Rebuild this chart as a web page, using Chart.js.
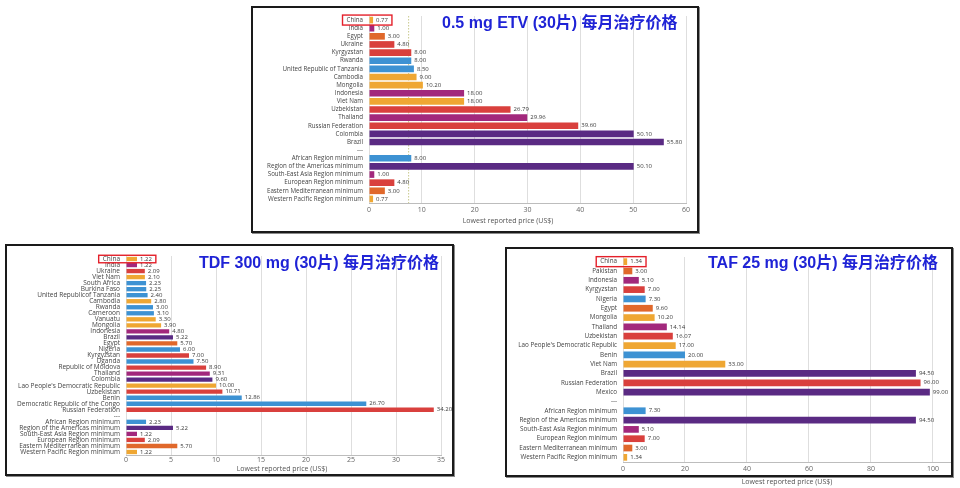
<!DOCTYPE html>
<html><head><meta charset="utf-8">
<script src="https://cdn.jsdelivr.net/npm/chart.js@4.4.1/dist/chart.umd.min.js"></script>
<style>
html,body{margin:0;padding:0;background:#fff;width:960px;height:488px;overflow:hidden;}
body{position:relative;}
.cv{position:absolute;}
.frame{position:absolute;border:2px solid #1a1a1a;box-sizing:border-box;box-shadow:1px 1px 0 #8a8a8a;pointer-events:none;}
.title{position:absolute;font:bold 16px "Liberation Sans","Noto Sans CJK SC",sans-serif;color:#1f23d6;line-height:16px;white-space:nowrap;}
</style></head><body>
<canvas id="c1" class="cv" width="448" height="227" style="left:251px;top:6px"></canvas>
<canvas id="c2" class="cv" width="449" height="232" style="left:5px;top:244px"></canvas>
<canvas id="c3" class="cv" width="448" height="241" style="left:505px;top:247px"></canvas>
<div class="frame" style="left:251px;top:6px;width:448px;height:227px"></div>
<div class="frame" style="left:5px;top:244px;width:449px;height:232px"></div>
<div class="frame" style="left:505px;top:247px;width:448px;height:230px"></div>
<div class="title" style="left:442px;top:15px">0.5 mg ETV (30片) 每月治疗价格</div>
<div class="title" style="left:199px;top:255px">TDF 300 mg (30片) 每月治疗价格</div>
<div class="title" style="left:708px;top:255px">TAF 25 mg (30片) 每月治疗价格</div>
<script>
// ---------- DATA ----------
const etvLabels = ["China","India","Egypt","Ukraine","Kyrgyzstan","Rwanda","United Republic of Tanzania","Cambodia","Mongolia","Indonesia","Viet Nam","Uzbekistan","Thailand","Russian Federation","Colombia","Brazil","---","African Region minimum","Region of the Americas minimum","South-East Asia Region minimum","European Region minimum","Eastern Mediterranean minimum","Western Pacific Region minimum"];
const etvValues = [0.77,1.00,3.00,4.80,8.00,8.00,8.50,9.00,10.20,18.00,18.00,26.79,29.96,39.60,50.10,55.80,null,8.00,50.10,1.00,4.80,3.00,0.77];
const etvRegions = ["WPR","SEAR","EMR","EUR","EUR","AFR","AFR","WPR","WPR","SEAR","WPR","EUR","SEAR","EUR","AMR","AMR",null,"AFR","AMR","SEAR","EUR","EMR","WPR"];
const etvRefLine = 7.5;
const etvTicks = {max:60, step:10};

const tdfLabels = ["China","India","Ukraine","Viet Nam","South Africa","Burkina Faso","United Republicof Tanzania","Cambodia","Rwanda","Cameroon","Vanuatu","Mongolia","Indonesia","Brazil","Egypt","Nigeria","Kyrgyzstan","Uganda","Republic of Moldova","Thailand","Colombia","Lao People's Democratic Republic","Uzbekistan","Benin","Democratic Republic of the Congo","Russian Federation","---","African Region minimum","Region of the Americas minimum","South-East Asia Region minimum","European Region minimum","Eastern Mediterranean minimum","Western Pacific Region minimum"];
const tdfValues = [1.22,1.22,2.09,2.10,2.23,2.25,2.40,2.80,3.00,3.10,3.30,3.90,4.80,5.22,5.70,6.00,7.00,7.50,8.90,9.31,9.60,10.00,10.71,12.86,26.70,34.20,null,2.23,5.22,1.22,2.09,5.70,1.22];
const tdfRegions = ["WPR","SEAR","EUR","WPR","AFR","AFR","AFR","WPR","AFR","AFR","WPR","WPR","SEAR","AMR","EMR","AFR","EUR","AFR","EUR","SEAR","AMR","WPR","EUR","AFR","AFR","EUR",null,"AFR","AMR","SEAR","EUR","EMR","WPR"];
const tdfTicks = {max:35, step:5};

const tafLabels = ["China","Pakistan","Indonesia","Kyrgyzstan","Nigeria","Egypt","Mongolia","Thailand","Uzbekistan","Lao People's Democratic Republic","Benin","Viet Nam","Brazil","Russian Federation","Mexico","---","African Region minimum","Region of the Americas minimum","South-East Asia Region minimum","European Region minimum","Eastern Mediterranean minimum","Western Pacific Region minimum"];
const tafValues = [1.34,3.00,5.10,7.00,7.30,9.60,10.20,14.14,16.07,17.00,20.00,33.00,94.50,96.00,99.00,null,7.30,94.50,5.10,7.00,3.00,1.34];
const tafRegions = ["WPR","EMR","SEAR","EUR","AFR","EMR","WPR","SEAR","EUR","WPR","AFR","WPR","AMR","EUR","AMR",null,"AFR","AMR","SEAR","EUR","EMR","WPR"];
const tafTicks = {max:105.5, step:20};

const axisTitle = "Lowest reported price (US$)";

// ---------- STYLE ----------
const REGION_COLORS = {WPR:'#EFA733', SEAR:'#A2287C', EMR:'#E0682B', EUR:'#D9403D', AFR:'#3D92D3', AMR:'#5A2A83'};
const FONT = '"Open Sans","Noto Sans",sans-serif';

const decorPlugin = {
  id:'priceDecor',
  beforeDatasetsDraw(chart, args, o){
    if (o.refLine == null) return;
    const ctx = chart.ctx, a = chart.chartArea;
    const x = chart.scales.x.getPixelForValue(o.refLine);
    ctx.save();
    ctx.strokeStyle = '#c8c98c'; ctx.lineWidth = 1; ctx.setLineDash([1.5,1.5]);
    ctx.beginPath(); ctx.moveTo(x, a.top); ctx.lineTo(x, a.bottom); ctx.stroke();
    ctx.restore();
  },
  afterDatasetsDraw(chart, args, o){
    const ctx = chart.ctx, a = chart.chartArea;
    const meta = chart.getDatasetMeta(0);
    const data = chart.data.datasets[0].data;
    ctx.save();
    ctx.font = o.valueSize + 'px ' + FONT;
    ctx.fillStyle = '#3a3a3a'; ctx.textBaseline = 'middle'; ctx.textAlign = 'left';
    meta.data.forEach((bar, i) => {
      const v = data[i];
      if (v == null) return;
      ctx.fillText(v.toFixed(2), bar.x + 3, bar.y);
    });
    // red box around first row (China)
    const b0 = meta.data[0];
    const valW = ctx.measureText(data[0].toFixed(2)).width;
    ctx.font = o.labelSize + 'px ' + FONT;
    const labW = ctx.measureText(chart.data.labels[0]).width;
    const left = a.left - 6 - labW - 4;
    const right = b0.x + 3 + valW + 4;
    ctx.strokeStyle = '#e4202a'; ctx.lineWidth = 1.4;
    ctx.strokeRect(left, b0.y - o.boxH/2, right - left, o.boxH);
    // axis title
    ctx.font = '7px ' + FONT; ctx.fillStyle = '#555'; ctx.textAlign = 'center';
    ctx.fillText(axisTitle, o.titleX, o.titleY);
    ctx.restore();
  }
};

function makeChart(id, labels, values, regions, ticksCfg, c){
  const canvas = document.getElementById(id);
  const H = canvas.height;
  return new Chart(canvas, {
    type:'bar',
    data:{labels:labels, datasets:[{data:values,
      backgroundColor:regions.map(r => r ? REGION_COLORS[r] : 'rgba(0,0,0,0)'),
      barPercentage:c.barPct, categoryPercentage:1, borderWidth:0}]},
    options:{
      indexAxis:'y', responsive:false, animation:false, devicePixelRatio:1,
      layout:{padding:{left:0, top:c.padTop, right:c.padRight, bottom:0}},
      plugins:{legend:{display:false}, tooltip:{enabled:false},
        priceDecor:{refLine:c.refLine, valueSize:6, labelSize:c.labelSize, boxH:c.boxH, titleX:c.titleX, titleY:c.titleY}},
      scales:{
        x:{type:'linear', min:0, max:ticksCfg.max,
          ticks:{stepSize:ticksCfg.step, includeBounds:false, padding:c.tickPad, font:{size:7, family:FONT}, color:'#666', maxRotation:0, autoSkip:false},
          grid:{color:'#dedede', drawTicks:false}, border:{color:'#bdbdbd'},
          afterBuildTicks(s){ s.ticks = s.ticks.filter(t => Math.abs(t.value/ticksCfg.step - Math.round(t.value/ticksCfg.step)) < 1e-6); },
          afterFit(s){ s.height = H - c.plotBottom; }},
        y:{ticks:{autoSkip:false, padding:6, font:{size:c.labelSize, family:FONT}, color:'#444'},
          grid:{display:false, drawTicks:false}, border:{display:false},
          afterFit(s){ s.width = c.plotLeft; }}
      }
    },
    plugins:[decorPlugin]
  });
}

makeChart('c1', etvLabels, etvValues, etvRegions, etvTicks,
  {plotLeft:118, padTop:10, plotBottom:197, padRight:13, labelSize:6.2, barPct:0.82, boxH:10, refLine:etvRefLine, tickPad:3, titleX:257, titleY:215});
makeChart('c2', tdfLabels, tdfValues, tdfRegions, tdfTicks,
  {plotLeft:121, padTop:12, plotBottom:211, padRight:13, labelSize:6.5, barPct:0.72, boxH:7.5, refLine:null, tickPad:1, titleX:277, titleY:225});
makeChart('c3', tafLabels, tafValues, tafRegions, tafTicks,
  {plotLeft:118, padTop:10, plotBottom:215, padRight:3, labelSize:6.3, barPct:0.72, boxH:10, refLine:null, tickPad:3, titleX:282, titleY:235});
</script>
</body></html>
